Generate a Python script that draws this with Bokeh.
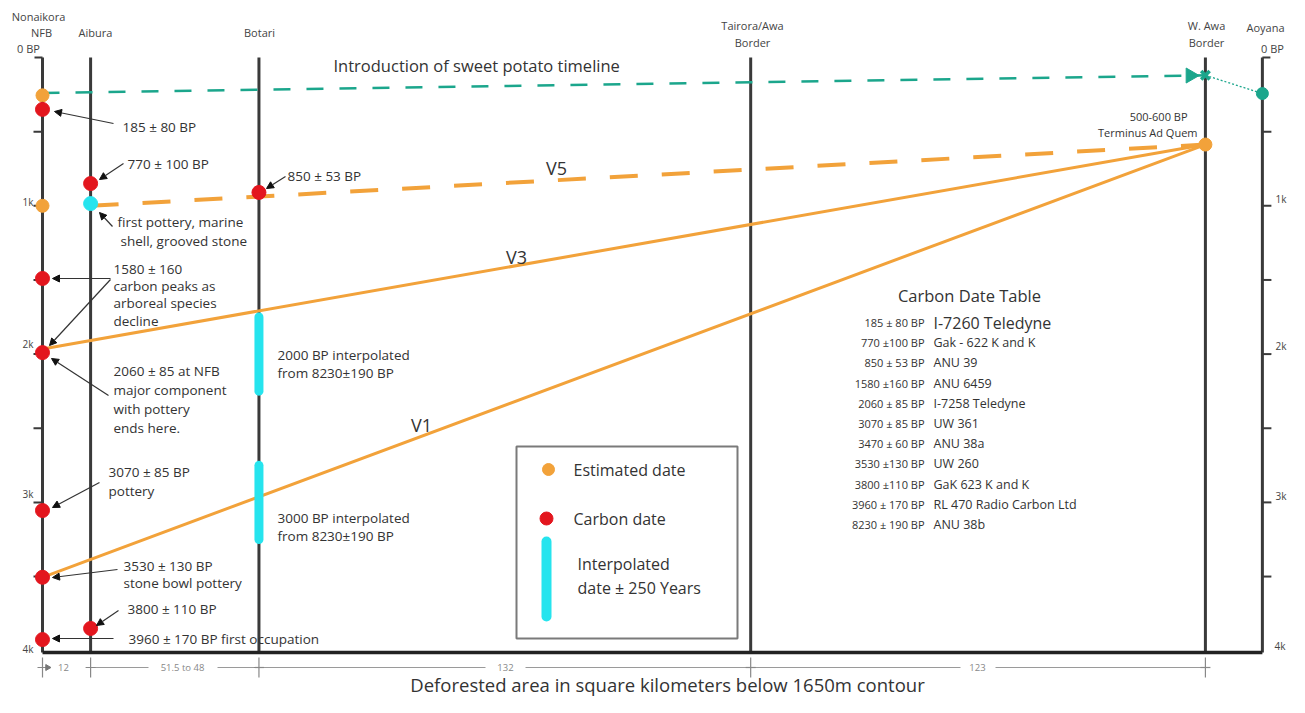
import math
from bokeh.plotting import figure
from bokeh.models import Range1d, Arrow, NormalHead
from bokeh.core.properties import value
from bokeh.embed import file_html
from bokeh.resources import INLINE

# ---------------- data ----------------
site_names = ["Nonaikora NFB", "Aibura", "Botari", "Tairora/Awa Border", "W. Awa Border", "Aoyana"]
site_km = [0.0, 13.0, 58.5, 191.4, 314.3, 329.7]          # cumulative distance (km)
segment_labels = ["12", "51.5 to 48", "132", "123"]

bp_ticks = [500, 1000, 1500, 2000, 2500, 3000, 3500]
bp_tick_labels = ["1k", "2k", "3k", "4k"]
bp_bottom = 4012

est_site = [0, 0, 4]
est_bp = [255, 1000, 587]

carbon_site = [0, 1, 2, 0, 0, 0, 0, 1, 0]
carbon_bp = [350, 850, 910, 1490, 1990, 3055, 3505, 3850, 3925]

first_pottery_site = 1
first_pottery_bp = 985

interp_site = [2, 2]
interp_bp = [2000, 3000]
interp_err = 250

sweet_site = [0, 4]
sweet_bp = [240, 120]
aoyana_site = 5
aoyana_sweet_bp = 243

v_names = ["V5", "V3", "V1"]
v_start_site = [1, 0, 0]
v_start_bp = [1000, 1965, 3505]
v_end_site = 4
v_end_bp = 587

table_dates = ["185 ± 80 BP", "770 ±100 BP", "850 ± 53 BP", "1580 ±160 BP", "2060 ± 85 BP",
               "3070 ± 85 BP", "3470 ± 60 BP", "3530 ±130 BP", "3800 ±110 BP", "3960 ± 170 BP",
               "8230 ± 190 BP"]
table_labs = ["I-7260 Teledyne", "Gak - 622  K and K", "ANU 39", "ANU 6459", "I-7258 Teledyne",
              "UW 361", "ANU 38a", "UW 260", "GaK 623 K and K", "RL 470 Radio Carbon Ltd", "ANU 38b"]

# ---------------- layout helpers (reference pixel -> data units) ----------------
def X(px):
    return (px - 42) / 3.7

def Y(py):
    return (py - 57) / 0.1483

KM = 1 / 3.7        # one pixel in km
ORANGE = "#F2A23A"
RED = "#E3161E"
CYAN = "#26E4EE"
TEAL = "#1BA68C"
INK = "#333333"
FONT = "Open Sans"

p = figure(width=1289, height=697, x_range=Range1d(X(0), X(1289)), y_range=Range1d(Y(697), Y(0)),
           output_backend="svg", toolbar_location=None, min_border=0, outline_line_color=None,
           x_axis_type=None, y_axis_type=None, background_fill_color="white", border_fill_color="white")
p.xgrid.visible = False
p.ygrid.visible = False

sx = lambda i: site_km[i]

# site verticals and bottom baseline
p.segment(x0=site_km, y0=[0] * 6, x1=site_km, y1=[bp_bottom] * 6, line_width=3, line_color="#3a3a3a")
p.segment(x0=[site_km[0]], y0=[bp_bottom], x1=[site_km[5]], y1=[bp_bottom], line_width=3.5, line_color="#222222")

# axis ticks (left on NFB, right on Aoyana)
p.segment(x0=[sx(0) - 8 * KM], y0=[0], x1=[sx(0)], y1=[0], line_width=2, line_color="#3a3a3a")
p.segment(x0=[sx(5)], y0=[0], x1=[sx(5) + 8 * KM], y1=[0], line_width=2, line_color="#3a3a3a")
p.segment(x0=[sx(0) - 9 * KM] * len(bp_ticks), y0=bp_ticks, x1=[sx(0)] * len(bp_ticks), y1=bp_ticks,
          line_width=2, line_color="#3a3a3a")
p.segment(x0=[sx(5)] * len(bp_ticks), y0=bp_ticks, x1=[sx(5) + 9 * KM] * len(bp_ticks), y1=bp_ticks,
          line_width=2, line_color="#3a3a3a")

# sweet potato timeline
p.line(x=[sx(i) for i in sweet_site], y=sweet_bp, line_color=TEAL, line_width=2.5, line_dash="17 16")
fx = X(1190)
fy = sweet_bp[0] + (sweet_bp[1] - sweet_bp[0]) * (fx - sx(sweet_site[0])) / (sx(sweet_site[1]) - sx(sweet_site[0]))
p.scatter(x=[fx], y=[fy], marker="triangle", size=15, angle=-math.pi / 2, fill_color=TEAL, line_color=TEAL)
p.scatter(x=[sx(sweet_site[1])], y=[sweet_bp[1]], marker="x", size=12, line_width=3.5, line_color=TEAL)
p.line(x=[sx(sweet_site[1]), sx(aoyana_site)], y=[sweet_bp[1], aoyana_sweet_bp], line_color=TEAL,
       line_width=1.3, line_dash="2 2")

# V lines
for name, s, b in zip(v_names, v_start_site, v_start_bp):
    dash = "28 24" if name == "V5" else "solid"
    lw = 4 if name == "V5" else 3
    p.line(x=[sx(s), sx(v_end_site)], y=[b, v_end_bp], line_color=ORANGE, line_width=lw, line_dash=dash)

# interpolated bars
p.segment(x0=[sx(i) for i in interp_site], y0=[b - interp_err for b in interp_bp],
          x1=[sx(i) for i in interp_site], y1=[b + interp_err for b in interp_bp],
          line_color=CYAN, line_width=9, line_cap="round")

# points
p.scatter(x=[sx(i) for i in est_site], y=est_bp, size=13, fill_color=ORANGE, line_color=ORANGE)
p.scatter(x=[sx(i) for i in carbon_site], y=carbon_bp, size=14, fill_color=RED, line_color=RED)
p.scatter(x=[sx(first_pottery_site)], y=[first_pottery_bp], size=14, fill_color=CYAN, line_color=CYAN)
p.scatter(x=[sx(aoyana_site)], y=[aoyana_sweet_bp], size=12, fill_color=TEAL, line_color=TEAL)

# pointer arrows (reference pixel coordinates)
arrows = [((113, 123), (54, 111)), ((123, 163), (99, 179)), ((285, 176), (266, 188)),
          ((112, 226), (99, 212)), ((110, 278), (52, 278)), ((110, 279), (49, 345)),
          ((108, 395), (51, 358)), ((99, 482), (52, 507)), ((117, 569), (52, 577)),
          ((118, 610), (96, 625)), ((113, 638), (52, 638))]
for (a, b) in arrows:
    p.add_layout(Arrow(end=NormalHead(size=7, fill_color="#111111", line_color="#111111"),
                       x_start=X(a[0]), y_start=Y(a[1]), x_end=X(b[0]), y_end=Y(b[1]),
                       line_width=1.2, line_color="#333333"))

# bottom dimension row
dim_y = Y(667)
dim_segs = [(88, 148), (217, 258), (258, 485), (525, 750), (750, 960), (995, 1205)]
p.segment(x0=[X(a) for a, _ in dim_segs], y0=[dim_y] * len(dim_segs), x1=[X(b) for _, b in dim_segs],
          y1=[dim_y] * len(dim_segs), line_color="#9a9a9a", line_width=1)
dim_ticks = [site_km[i] for i in range(5)]
p.segment(x0=dim_ticks, y0=[Y(657)] * 5, x1=dim_ticks, y1=[Y(677)] * 5, line_color="#888888", line_width=1.2)
p.segment(x0=[t - 5 * KM for t in dim_ticks], y0=[dim_y] * 5, x1=[t + 5 * KM for t in dim_ticks],
          y1=[dim_y] * 5, line_color="#888888", line_width=1.2)
p.scatter(x=[X(47)], y=[dim_y], marker="triangle", size=6, angle=-math.pi / 2, fill_color="#777777",
          line_color="#777777")

# legend box
p.quad(left=[X(516)], right=[X(737)], top=[Y(446)], bottom=[Y(638)], fill_color=None,
       line_color="#7a7a7a", line_width=2)
p.scatter(x=[X(548)], y=[Y(469)], size=12, fill_color=ORANGE, line_color=ORANGE)
p.scatter(x=[X(546)], y=[Y(518)], size=13, fill_color=RED, line_color=RED)
p.segment(x0=[X(546)], y0=[Y(541)], x1=[X(546)], y1=[Y(616)], line_color=CYAN, line_width=10, line_cap="round")


def put(items, size, color=INK, align="left", baseline="middle", style="normal"):
    p.text(x=[X(a) for a, _, _ in items], y=[Y(b) for _, b, _ in items], text=[t for _, _, t in items],
           text_font=value(FONT), text_font_size=size, text_color=color, text_align=align,
           text_baseline=baseline, text_font_style=style)


# site header labels
put([(38, 16, "Nonaikora"), (41, 32, "NFB"), (28, 48, "0 BP"), (95, 32, "Aibura"), (259, 32, "Botari"),
     (752, 25, "Tairora/Awa"), (752, 42, "Border"), (1206, 25, "W. Awa"), (1206, 42, "Border"),
     (1265, 27, "Aoyana"), (1272, 48, "0 BP")], "11px", color="#444444", align="center")

# axis labels
put([(33, 201, bp_tick_labels[0]), (33, 343, bp_tick_labels[1]), (33, 493, bp_tick_labels[2]),
     (33, 648, bp_tick_labels[3])], "10px", color="#444444", align="right")
put([(1275, 198, bp_tick_labels[0]), (1275, 345, bp_tick_labels[1]), (1275, 495, bp_tick_labels[2]),
     (1274, 645, bp_tick_labels[3])], "10px", color="#444444", align="left")

# annotations
put([(122, 126, "185 ± 80 BP"), (127, 163, "770 ± 100 BP"), (287, 175, "850 ± 53 BP"),
     (117, 221, "first pottery, marine"), (120, 240, "shell, grooved stone"),
     (113, 268, "1580 ± 160"), (113, 285, "carbon peaks as"), (113, 302, "arboreal species"),
     (113, 320, "decline"),
     (113, 370, "2060 ± 85 at NFB"), (113, 389, "major component"), (113, 408, "with pottery"),
     (113, 427, "ends here."),
     (277, 354, "2000 BP interpolated"), (277, 372, "from 8230±190 BP"),
     (277, 517, "3000 BP interpolated"), (277, 535, "from 8230±190 BP"),
     (108, 471, "3070 ± 85 BP"), (108, 490, "pottery"),
     (123, 565, "3530 ± 130 BP"), (123, 582, "stone bowl pottery"),
     (127, 608, "3800 ± 110 BP"), (128, 638, "3960 ± 170 BP first occupation")], "13.5px")
put([(1187, 116, "500-600 BP"), (1197, 132, "Terminus Ad Quem")], "11px", align="right")

# titles
put([(333, 65, "Introduction of sweet potato timeline")], "16.5px")
put([(556, 167, v_names[0]), (516, 256, v_names[1]), (421, 424, v_names[2])], "18px", align="center")
put([(667, 684, "Deforested area in square kilometers below 1650m contour")], "18.5px", align="center")

# legend texts
put([(573, 469, "Estimated date"), (573, 518, "Carbon date"), (577, 563, "Interpolated"),
     (577, 587, "date  ± 250 Years")], "16px")

# bottom segment labels
put([(63, 667, segment_labels[0]), (182, 667, segment_labels[1]), (505, 667, segment_labels[2]),
     (977, 667, segment_labels[3])], "9.5px", color="#888888", align="center")

# carbon date table
put([(969, 295, "Carbon Date Table")], "16.5px", align="center")
row_y = [322 + 20.2 * i for i in range(len(table_dates))]
put([(924, y, d) for y, d in zip(row_y, table_dates)], "11px", align="right")
put([(933, row_y[0], table_labs[0])], "16px")
put([(933, y, s) for y, s in zip(row_y[1:], table_labs[1:])], "12.5px")

open("out.html", "w").write(file_html(p, INLINE))
